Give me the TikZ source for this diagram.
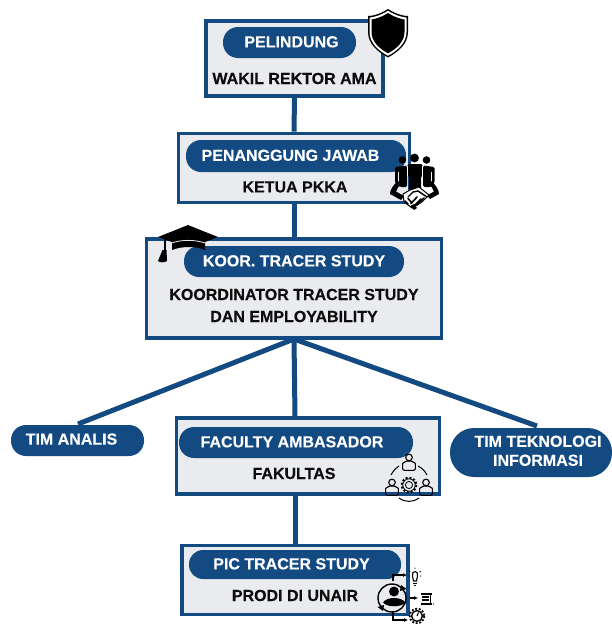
\documentclass[tikz,border=0pt]{standalone}
\usepackage{fontspec}
\usetikzlibrary{arrows.meta}
\setmainfont[BoldFeatures={FakeBold=0.25}]{Liberation Sans}
\definecolor{navy}{HTML}{134A82}
\definecolor{panel}{HTML}{E9EBEE}
\definecolor{ink}{HTML}{0D0D0D}
\tikzset{
  panelbox/.style={draw=navy,fill=panel,line width=3.6pt,inner sep=0pt},
  pill/.style={fill=navy,rounded corners=15pt,inner sep=0pt,text=white,font=\fontsize{16}{18}\selectfont\bfseries},
  bodytext/.style={text=ink,inner sep=0pt,align=center,font=\fontsize{16}{22}\selectfont\bfseries},
  link/.style={draw=navy,line width=5pt},
  iconline/.style={draw=black,line width=1.1pt,fill=none},
  iconfill/.style={fill=black,draw=none}
}
\newcommand{\personicon}[3]{% x y scale
  \begin{scope}[shift={(#1,#2)},scale=#3]
    \draw[iconline] (0,-6) circle (3.6);
    \draw[iconline,rounded corners=2pt] (-7,8) -- (-7,3) .. controls (-7,0) and (-3,-2) .. (0,-2) .. controls (3,-2) and (7,0) .. (7,3) -- (7,8) -- cycle;
  \end{scope}}
\begin{document}
\begin{tikzpicture}[x=1pt,y=-1pt]
\useasboundingbox (0,0) rectangle (612,624);
% boxes
\node[panelbox,minimum width=177pt,minimum height=75pt] (b1) at (294.5,58.5) {};
\node[panelbox,minimum width=231pt,minimum height=69pt] (b2) at (294,168) {};
\node[panelbox,minimum width=295pt,minimum height=99pt] (b3) at (294,288.5) {};
\node[panelbox,minimum width=263pt,minimum height=76pt] (b4) at (308,456) {};
\node[panelbox,minimum width=226pt,minimum height=69pt] (b5) at (295,580) {};
% connector ends
\coordinate (b3s) at (294,339);
\coordinate (anl) at (78,424);
\coordinate (ttop) at (537,426);
\coordinate (b4n) at (295,417);
\coordinate (b4s) at (295,496);
\coordinate (b5n) at (295,544);
\draw[link] (b1.south) -- (b2.north);
\draw[link] (b2.south) -- (b3.north);
\draw[link] (b3s) -- (anl);
\draw[link] (b3s) -- (ttop);
\draw[link] (b3s) -- (b4n);
\draw[link] (b4s) -- (b5n);
% pills
\node[pill,minimum width=133pt,minimum height=31pt] (p1) at (289.5,42.5) {\hspace{4pt}\raisebox{1.5pt}{PELINDUNG}};
\node[pill,minimum width=220pt,minimum height=32pt] (p2) at (296,156) {\hspace{-11pt}\raisebox{1.5pt}{PENANGGUNG JAWAB}};
\node[pill,minimum width=220pt,minimum height=31pt] (p3) at (294,261.5) {\raisebox{1.5pt}{KOOR. TRACER STUDY}};
\node[pill,minimum width=234pt,minimum height=31pt] (p4) at (296,442.5) {\hspace{-8pt}\raisebox{1.5pt}{FACULTY AMBASADOR}};
\node[pill,minimum width=212pt,minimum height=29pt,rounded corners=14pt] (p5) at (295,564.5) {\hspace{-7pt}\raisebox{1.5pt}{PIC TRACER STUDY}};
\node[pill,minimum width=133pt,minimum height=31pt] (t1) at (77.5,440.5) {\hspace{-12pt}\raisebox{3pt}{TIM ANALIS}};
\node[pill,minimum width=162pt,minimum height=49pt,rounded corners=24pt,align=center,font=\fontsize{16}{19}\selectfont\bfseries] (t2) at (531,452.5) {\hspace{14pt}\raisebox{-1pt}{\begin{tabular}{@{}c@{}}TIM TEKNOLOGI\\[0pt]INFORMASI\end{tabular}}};
% body text
\node[bodytext] (l1) at (294.5,78.5) {WAKIL REKTOR AMA};
\node[bodytext] (l2) at (295,187) {KETUA PKKA};
\node[bodytext] (l3) at (294,305.5) {KOORDINATOR TRACER STUDY\\DAN EMPLOYABILITY};
\node[bodytext] (l4) at (294,473.5) {FAKULTAS};
\node[bodytext] (l5) at (295,595.5) {PRODI DI UNAIR};
% shield
\fill[black] (388,9) .. controls (396,14) and (403,16) .. (408,16) -- (408,32) .. controls (408,44) and (398,52) .. (388,57.5) .. controls (378,52) and (368,44) .. (368,32) -- (368,16) .. controls (373,16) and (380,14) .. (388,9) -- cycle;
\fill[white] (388,10.8) .. controls (395,15.2) and (402,17.2) .. (406.5,17.6) -- (406.5,32) .. controls (406.5,43) and (397,51) .. (388,55.7) .. controls (379,51) and (369.5,43) .. (369.5,32) -- (369.5,17.6) .. controls (374,17.2) and (381,15.2) .. (388,10.8) -- cycle;
\fill[black] (388,13) .. controls (394,17) and (400.5,19) .. (404.5,19.5) -- (404.5,32) .. controls (404.5,42) and (396,49) .. (388,53.3) .. controls (380,49) and (371.5,42) .. (371.5,32) -- (371.5,19.5) .. controls (375.5,19) and (382,17) .. (388,13) -- cycle;
% people and handshake
\fill[iconfill] (402.5,160) circle (3.8);
\fill[iconfill] (414.5,158) circle (4.4);
\fill[iconfill] (426.5,160) circle (3.8);
\fill[iconfill,rounded corners=1.5pt] (395,183) -- (395,167) -- (407,165.5) -- (407,187) -- (400,187) -- cycle;
\fill[iconfill,rounded corners=1.5pt] (434.5,183) -- (434.5,167) -- (423,165.5) -- (423,187) -- (431,187) -- cycle;
\fill[iconfill,rounded corners=1.5pt] (407.5,164) -- (422.5,164) -- (423,175) -- (421,176) -- (421,190) -- (409,190) -- (409,176) -- (407,175) -- cycle;
\draw[white,line width=.7pt] (398,172) -- (398,184) (431.5,172) -- (431.5,184) (407.3,166) -- (407.3,176) (422.7,166) -- (422.7,176);
% sleeves
\fill[iconfill] (398,181) .. controls (393,185) and (390,190) .. (390,194) -- (401,200) -- (404,196) -- (396,191.5) .. controls (397,188) and (399,186) .. (402,184) -- cycle;
\fill[iconfill] (431,181) .. controls (436,185) and (439,190) .. (439,194) -- (430,199) -- (427,195.5) -- (434,191.5) .. controls (433,188) and (431,186) .. (428,184) -- cycle;
% hands
\draw[black,line width=1pt,fill=white,line join=round] (403,194) -- (410,190) -- (419,187) -- (429,195) -- (422,202) -- (412,208) -- (404,202) -- cycle;
\draw[black,line width=1.4pt,line cap=round] (408,197) -- (413,192) -- (418,191) -- (427,197);
\draw[black,line width=1.6pt,line cap=round] (405,201) -- (408,204) (408,198.5) -- (412,203) (417,197) -- (411,203.5) (421,199) -- (414,206) (424,198) -- (417,205);
\fill[iconfill] (410,206) -- (414,210) -- (417,208) -- (414,204) -- cycle;
% graduation cap
\fill[iconfill] (188,225) -- (218,237) -- (205,242) -- (205,250) .. controls (196,246) and (182,246) .. (172,250) -- (172,242) -- (158,237) -- cycle;
\draw[panel,line width=.8pt] (172,243) .. controls (181,239.5) and (195,239.5) .. (205,243);
\fill[iconfill] (164,239) rectangle (166,251);
\fill[iconfill] (162.5,250) -- (166.5,250) -- (167,261) .. controls (164,263) and (160,262.5) .. (158,261) -- cycle;
% group icon
\draw[iconline,line width=1pt] (391,475) .. controls (393,471) and (396,468) .. (399,466) (418,466) .. controls (422,468) and (425,471) .. (427,475) (399,498) .. controls (405,502.5) and (413,502.5) .. (419,498);
\personicon{409}{463}{.92}
\personicon{392}{488}{.92}
\personicon{426}{488}{.92}
\begin{scope}[shift={(409,485)}]
  \draw[black,line width=1.8pt,dash pattern=on 2pt off 1.9pt] (0,0) circle (7.4);
  \draw[iconline,line width=.8pt] (0,0) circle (6.2) (0,0) circle (3.6);
\end{scope}
% process icon
\draw[black,line width=1.4pt] (392,598) circle (14);
\fill[iconfill] (394,591.5) circle (5);
\fill[iconfill] (383,602.5) .. controls (387,596.5) and (401,596.5) .. (405.5,602.5) .. controls (401,607.5) and (387,607.5) .. (383,602.5) -- cycle;
\fill[iconfill] (406.5,589) -- (401,585) -- (400,591) -- cycle;
\fill[iconfill] (377.5,607) -- (383,611) -- (384,605) -- cycle;
\draw[black,line width=1.2pt,-{Latex[length=4pt,width=4pt]}] (393,581) -- (393,575) -- (407,575);
\draw[black,line width=1.2pt,-{Latex[length=4pt,width=4pt]}] (410,598) -- (418,598);
\draw[black,line width=1.2pt,-{Latex[length=4pt,width=4pt]}] (393,611) -- (393,620) -- (408,620);
\draw[iconline] (412.5,576) .. controls (411,570) and (419,570) .. (417.5,576) -- (416.5,581) -- (413.5,581) -- cycle;
\draw[black,line width=1pt] (413,583) -- (417,583) (414,585) -- (416,585);
\draw[black,line width=.9pt,dash pattern=on 1.4pt off 1.4pt] (408.5,576) -- (410.5,576) (420,576) -- (422,576) (409,571) -- (410.5,572) (419.5,572) -- (421,571) (415,567.5) -- (415,569.5);
\fill[iconfill] (421,592.5) rectangle (431.5,594.5);
\draw[black,line width=1.5pt] (422,597) -- (429,597) (422,600) -- (429,600);
\fill[iconfill] (421,602.5) rectangle (431.5,604.5);
\draw[black,line width=1.6pt] (430.5,593) -- (430.5,604);
\fill[iconfill] (433.5,604) circle (.6);
\draw[black,line width=1.8pt,dash pattern=on 1.9pt off 1.7pt] (417,616) circle (7.3);
\draw[iconline,line width=1.4pt] (417,616) circle (5.4);
\draw[black,line width=1.1pt] (417,616) -- (418.5,612.5);
\end{tikzpicture}
\end{document}
